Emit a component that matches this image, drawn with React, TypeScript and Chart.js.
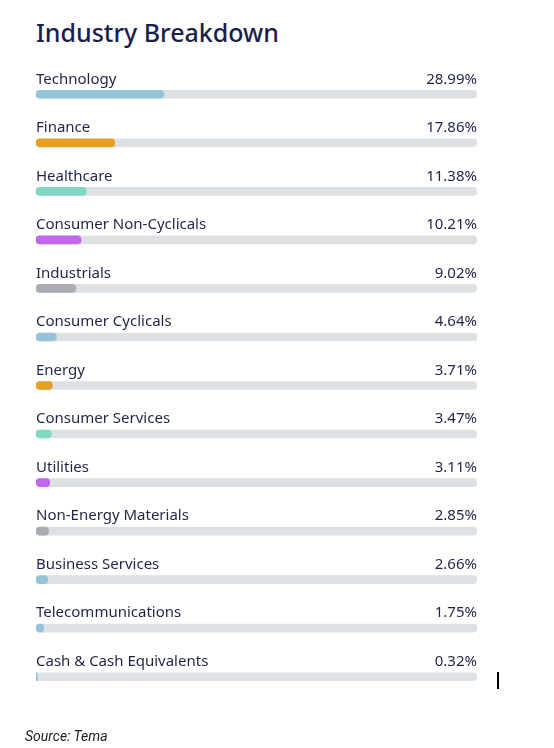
import React, { useEffect, useRef } from "react";
import { Chart, registerables } from "chart.js";

Chart.register(...registerables);

const title = "Industry Breakdown";
const source = "Source: Tema";

const categories = [
  "Technology",
  "Finance",
  "Healthcare",
  "Consumer Non-Cyclicals",
  "Industrials",
  "Consumer Cyclicals",
  "Energy",
  "Consumer Services",
  "Utilities",
  "Non-Energy Materials",
  "Business Services",
  "Telecommunications",
  "Cash & Cash Equivalents",
];

const values = [28.99, 17.86, 11.38, 10.21, 9.02, 4.64, 3.71, 3.47, 3.11, 2.85, 2.66, 1.75, 0.32];

const valueLabels = ["28.99%", "17.86%", "11.38%", "10.21%", "9.02%", "4.64%", "3.71%", "3.47%", "3.11%", "2.85%", "2.66%", "1.75%", "0.32%"];

const BLUE = "#95c3d8";
const ORANGE = "#e6a125";
const TEAL = "#80d8c3";
const PURPLE = "#c266ee";
const GRAY = "#a9adb1";
const barColors = [BLUE, ORANGE, TEAL, PURPLE, GRAY, BLUE, ORANGE, TEAL, PURPLE, GRAY, BLUE, BLUE, BLUE];

const scaleMax = 100;
const trackValues = categories.map(() => scaleMax);
const TRACK = "#dde1e4";
const TEXT = "#1f2547";

const labelPlugin = {
  id: "rowLabels",
  afterDatasetsDraw(chart: any) {
    const { ctx, chartArea } = chart;
    const meta = chart.getDatasetMeta(0);
    ctx.save();
    ctx.fillStyle = TEXT;
    ctx.font = "15px 'Noto Sans'";
    ctx.textBaseline = "middle";
    meta.data.forEach((bar: any, i: number) => {
      const y = bar.y - 15;
      ctx.textAlign = "left";
      ctx.fillText(categories[i], chartArea.left, y);
      ctx.textAlign = "right";
      ctx.fillText(valueLabels[i], chartArea.right, y);
    });
    ctx.restore();
  },
};

export default function App() {
  const ref = useRef<HTMLCanvasElement | null>(null);

  useEffect(() => {
    if (!ref.current) return;
    const chart = new Chart(ref.current, {
      type: "bar",
      data: {
        labels: categories,
        datasets: [
          {
            data: values,
            backgroundColor: barColors,
            barThickness: 8,
            borderRadius: 4,
            borderSkipped: false,
            grouped: false,
            order: 0,
          } as any,
          {
            data: trackValues,
            backgroundColor: TRACK,
            barThickness: 8,
            borderRadius: 4,
            borderSkipped: false,
            grouped: false,
            order: 1,
          } as any,
        ],
      },
      options: {
        indexAxis: "y",
        responsive: false,
        animation: false,
        layout: { padding: { left: 36, right: 77, top: 70, bottom: 47 } },
        plugins: { legend: { display: false }, tooltip: { enabled: false } },
        scales: {
          x: { display: false, min: 0, max: scaleMax },
          y: { display: false },
        },
      },
      plugins: [labelPlugin],
    });
    return () => chart.destroy();
  }, []);

  return (
    <div style={{ position: "absolute", left: 0, top: 0, width: 554, height: 748, background: "#fff" }}>
      <div
        style={{
          position: "absolute",
          left: 36,
          top: 15,
          fontFamily: "'Noto Sans', sans-serif",
          fontSize: 25,
          fontWeight: 500,
          color: "#1b1f4b",
          lineHeight: "34px",
          whiteSpace: "nowrap",
        }}
      >
        {title}
      </div>
      <canvas ref={ref} width={554} height={748} style={{ position: "absolute", left: 0, top: 0 }} />
      <div
        style={{
          position: "absolute",
          left: 25,
          top: 727,
          fontFamily: "Roboto, sans-serif",
          fontStyle: "italic",
          fontSize: 14,
          color: "#222",
          lineHeight: "18px",
          whiteSpace: "nowrap",
        }}
      >
        {source}
      </div>
      <div style={{ position: "absolute", left: 497, top: 672, width: 2, height: 17, background: "#000" }} />
    </div>
  );
}
